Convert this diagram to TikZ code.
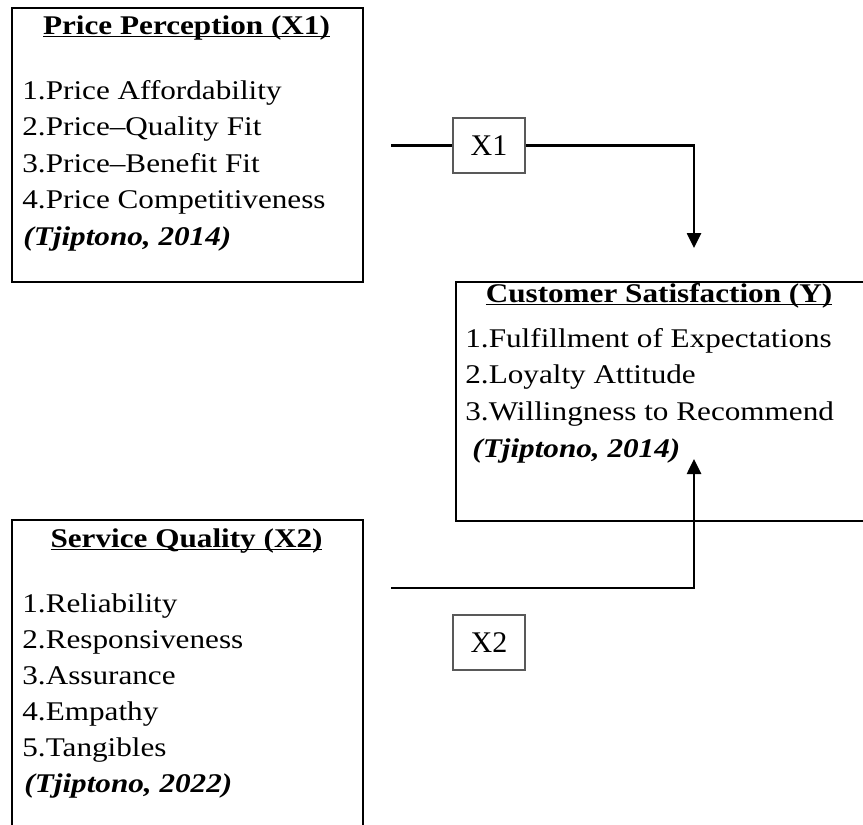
\documentclass[tikz,border=0pt]{standalone}
\usepackage{fontspec}
\setmainfont{Liberation Serif}[FakeStretch=1.155]
\newfontfamily\varfont{Liberation Serif}
\usetikzlibrary{arrows.meta}

\newcommand{\headline}[1]{\underline{\smash{#1}}}

\tikzset{
  frame/.style={draw,line width=1pt,inner sep=0pt,anchor=north west,minimum width=175.5pt},
  varbox/.style={draw=black!65,line width=0.7pt,minimum width=36pt,minimum height=27.5pt,
    inner sep=0pt,font=\varfont\fontsize{15}{18}\selectfont},
  link/.style={line width=1.3pt},
  tip/.style={-{Triangle[width=7pt,length=7.5pt]}},
  head/.style={anchor=base,font=\fontsize{13.5}{16}\selectfont\bfseries},
  item/.style={anchor=base west},
  cite/.style={anchor=base west,font=\fontsize{13.5}{16}\selectfont\bfseries\itshape},
}

\begin{document}
\begin{tikzpicture}[x=0.5pt,y=-0.5pt,
    every node/.style={font=\fontsize{13.5}{16}\selectfont,inner sep=0pt}]
    \useasboundingbox (0,0) rectangle (863,825);
    % outer frames, the cut ones run past the page edge
    \begin{scope}
      \clip (0,0) rectangle (863,825);
      \node[frame,minimum height=137pt] (pp) at (11,7) {};
      \node[frame,minimum width=205.5pt,minimum height=119.5pt] (cs) at (455,281) {};
      \node[frame,minimum height=170pt] (sq) at (11,519) {};
    \end{scope}
    % price perception (X1)
    \node[head] (pp-title) at (186.5,34) {\headline{Price Perception (X1)}};
    \foreach \txt [count=\i] in {1.Price Affordability,2.Price--Quality Fit,
        3.Price--Benefit Fit,4.Price Competitiveness}
      {\node[item] (pp-\i) at (22,{99+36.5*(\i-1)}) {\txt};}
    \node[cite] (pp-src) at (23,245) {(Tjiptono, 2014)};
    % customer satisfaction (Y)
    \node[head] (cs-title) at (659,302) {\headline{Customer Satisfaction (Y)}};
    \foreach \txt [count=\i] in {1.Fulfillment of Expectations,2.Loyalty Attitude,
        3.Willingness to Recommend}
      {\node[item] (cs-\i) at (465,{347+36.7*(\i-1)}) {\txt};}
    \node[cite] (cs-src) at (472,457) {(Tjiptono, 2014)};
    % service quality (X2)
    \node[head] (sq-title) at (186.5,547) {\headline{Service Quality (X2)}};
    \foreach \txt [count=\i] in {1.Reliability,2.Responsiveness,3.Assurance,
        4.Empathy,5.Tangibles}
      {\node[item] (sq-\i) at (22,{612+36.2*(\i-1)}) {\txt};}
    \node[cite] (sq-src) at (24,792) {(Tjiptono, 2022)};
    % paths into Y
    \coordinate (x1-from) at (391,145.5);
    \coordinate (x1-to) at (694,248);
    \node[varbox] (x1) at (489,145.5) {X1};
    \draw[link] (x1-from) -- (x1);
    \draw[link,tip] (x1) -| (x1-to);
    \coordinate (x2-from) at (391,588);
    \coordinate (x2-to) at (694,459);
    \draw[link,tip] (x2-from) -| (x2-to);
    \node[varbox] (x2) at (489,642.5) {X2};
\end{tikzpicture}
\end{document}
